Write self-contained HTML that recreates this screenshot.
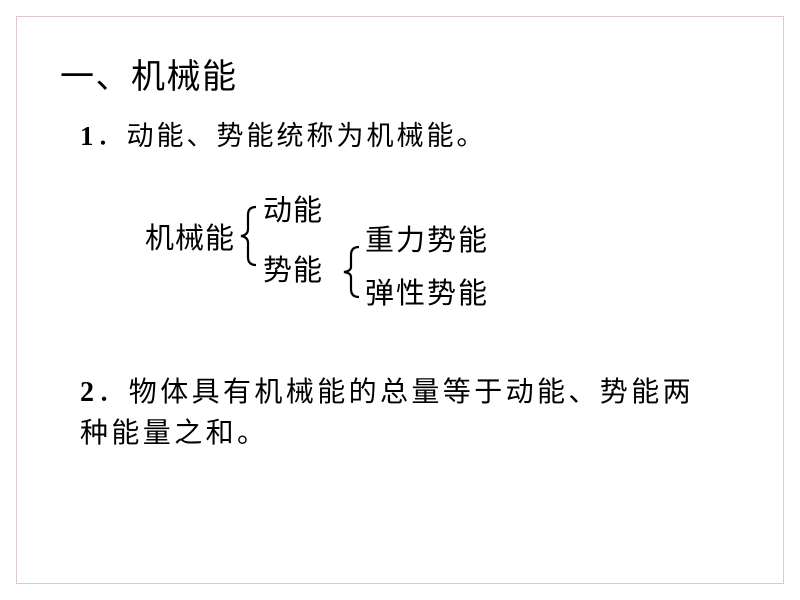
<!DOCTYPE html>
<html><head><meta charset="utf-8"><style>
body{margin:0;width:800px;height:600px;background:#fff;position:relative;overflow:hidden;font-family:"Liberation Serif","Noto Sans CJK SC",sans-serif;color:#000}
.b{position:absolute;left:16px;top:16px;width:766px;height:566px;border:1px solid #e0c8cc}
.t{position:absolute;white-space:nowrap;line-height:1}
.c{font-family:'Noto Sans CJK SC',sans-serif}
</style></head><body>
<div class="b"></div>
<div class="t c" style="left:60px;top:57px;font-size:34px;letter-spacing:1.5px">一、机械能</div>
<div class="t" style="left:80px;top:120px;font-size:27px;letter-spacing:3px"><b>1</b><span class="c">．动能、势能统称为机械能。</span></div>
<div class="t c" style="left:145px;top:222px;font-size:29px;letter-spacing:1px">机械能</div>
<div class="t c" style="left:263px;top:194px;font-size:29px;letter-spacing:1px">动能</div>
<div class="t c" style="left:263px;top:254px;font-size:29px;letter-spacing:1px">势能</div>
<div class="t c" style="left:365px;top:224px;font-size:29px;letter-spacing:2px">重力势能</div>
<div class="t c" style="left:365px;top:277px;font-size:29px;letter-spacing:2px">弹性势能</div>
<svg style="position:absolute;left:0;top:0" width="800" height="600">
<path d="M256 207 Q248 207 248 215 L248 229 Q248 235 241 236 Q248 237 248 243 L248 257 Q248 265 256 265" fill="none" stroke="#000" stroke-width="2.2"/>
<path d="M359 247 Q351 247 351 255 L351 267 Q351 271 344 272 Q351 273 351 277 L351 289 Q351 297 359 297" fill="none" stroke="#000" stroke-width="2.2"/>
</svg>
<div class="t" style="left:80px;top:376px;font-size:28px;letter-spacing:3.4px"><b>2</b><span class="c">．物体具有机械能的总量等于动能、势能两</span></div>
<div class="t c" style="left:80px;top:417px;font-size:28px;letter-spacing:3.4px">种能量之和。</div>
</body></html>
